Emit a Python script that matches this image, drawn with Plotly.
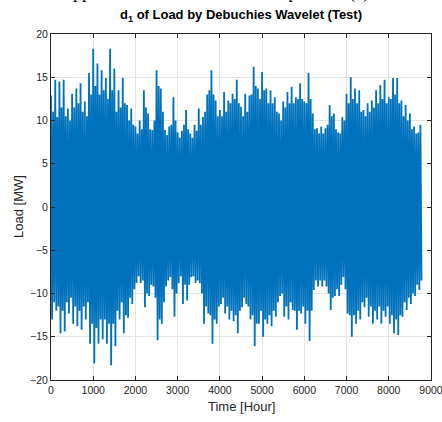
import plotly.graph_objects as go

# d1 detail signal of the load.
# For every 100-hour block: the spike top (upper), the spike bottom (lower),
# and the lower-lying envelope between spikes (upper_mid / lower_mid).
hours = list(range(0, 8800, 100))
upper = [12.9, 14.7, 14.5, 14.7, 11.4, 13.1, 13.7, 14.3, 12.2, 15.5,
         18.3, 16.6, 15.8, 14.9, 18.3, 16.0, 13.5, 14.9, 11.8, 11.4,
         9.3, 10.0, 13.5, 10.8, 8.9, 15.8, 13.7, 8.9, 9.3, 12.7,
         8.6, 8.8, 11.2, 8.5, 9.5, 11.4, 10.4, 13.0, 15.8, 12.3,
         11.2, 13.3, 12.3, 13.1, 14.7, 11.6, 13.1, 12.9, 16.2, 13.7,
         15.6, 13.7, 13.5, 12.7, 10.8, 12.2, 13.3, 13.9, 12.7, 14.3,
         12.2, 15.5, 10.8, 9.1, 9.3, 9.1, 11.8, 10.8, 8.6, 10.4,
         13.1, 15.0, 13.7, 13.5, 11.2, 12.0, 12.3, 13.5, 14.1, 14.7,
         12.7, 14.9, 14.9, 12.3, 11.8, 10.8, 9.3, 8.6]
lower = [-13.0, -12.0, -14.6, -14.4, -12.3, -13.5, -13.8, -14.2, -13.0, -15.8,
         -18.1, -15.8, -15.3, -15.8, -18.3, -16.1, -13.0, -14.6, -12.8, -11.2,
         -8.8, -8.8, -11.6, -10.3, -9.2, -15.4, -13.5, -9.2, -8.1, -12.7,
         -8.8, -11.2, -10.8, -8.1, -8.8, -8.8, -13.5, -12.3, -15.8, -13.5,
         -11.2, -12.3, -13.0, -13.2, -14.6, -11.6, -11.2, -13.0, -16.1, -13.5,
         -15.0, -13.5, -13.8, -12.7, -10.3, -12.7, -13.0, -11.9, -14.2, -12.3,
         -13.5, -15.5, -9.6, -9.2, -9.2, -9.2, -11.9, -10.3, -10.3, -8.1,
         -12.3, -15.0, -13.5, -13.0, -11.6, -12.7, -13.5, -13.0, -13.5, -12.7,
         -13.5, -14.6, -14.8, -12.7, -11.9, -11.2, -10.3, -9.6]
upper_mid = [11.0, 10.4, 11.5, 10.5, 10.0, 11.5, 12.0, 11.0, 10.5, 13.0,
             14.0, 13.0, 13.5, 12.5, 13.5, 11.0, 11.5, 12.0, 10.0, 9.5,
             8.5, 9.0, 11.5, 9.0, 10.0, 14.0, 11.0, 8.3, 9.5, 10.0,
             8.0, 9.5, 9.0, 8.0, 8.8, 9.5, 11.0, 13.5, 13.0, 10.5,
             10.5, 11.0, 12.0, 12.5, 12.0, 10.5, 11.0, 13.0, 14.0, 12.5,
             13.5, 12.0, 12.0, 11.0, 10.0, 11.5, 12.0, 12.0, 12.5, 12.5,
             12.0, 12.5, 9.0, 8.5, 8.5, 9.5, 10.5, 9.0, 8.5, 10.0,
             12.0, 12.5, 12.0, 11.0, 10.5, 11.0, 11.5, 12.0, 12.5, 12.0,
             12.5, 13.0, 12.0, 10.5, 10.0, 9.0, 8.5, 9.5]
lower_mid = [-11.0, -11.5, -12.0, -11.0, -10.5, -11.5, -12.0, -11.5, -11.0, -13.5,
             -14.0, -13.0, -13.0, -13.5, -13.5, -12.0, -11.0, -12.5, -10.5, -9.5,
             -8.0, -8.5, -10.0, -9.0, -10.5, -13.0, -11.0, -8.5, -9.5, -10.0,
             -8.0, -9.0, -9.0, -8.0, -8.5, -10.0, -11.5, -12.5, -13.0, -11.5,
             -10.5, -11.5, -12.0, -12.5, -12.0, -10.5, -11.5, -12.5, -13.5, -12.0,
             -13.0, -12.5, -12.0, -11.0, -10.0, -11.5, -11.0, -12.0, -12.0, -11.5,
             -12.0, -12.0, -8.5, -8.5, -8.5, -10.0, -10.5, -9.5, -9.0, -9.5,
             -12.5, -12.5, -12.0, -11.0, -10.5, -11.5, -12.0, -11.5, -12.0, -11.5,
             -12.5, -13.0, -12.5, -11.0, -10.5, -10.0, -9.0, -8.5]
sample_step = 25  # hours between consecutive samples inside a block

x_ticks = list(range(0, 10000, 1000))
y_ticks = list(range(-20, 25, 5))

xs, ys = [], []
for h, a, b, c, d in zip(hours, upper, lower, upper_mid, lower_mid):
    for k, v in enumerate((a, b, c, d)):
        xs.append(h + k * sample_step)
        ys.append(v)

fig = go.Figure()
fig.add_trace(go.Scatter(x=xs, y=ys, mode="lines",
                         line=dict(color="#0072BD", width=1.8),
                         hoverinfo="skip", showlegend=False))

FONT = "Liberation Sans, Arial, Helvetica"
axis_common = dict(showgrid=True, gridcolor="#e4e4e4", gridwidth=1,
                   zeroline=False, showline=True, linecolor="#262626",
                   linewidth=1, mirror="ticks", ticks="inside", ticklen=4,
                   tickcolor="#262626", automargin=False,
                   ticklabeloverflow="allow",
                   tickfont=dict(family=FONT, size=10.5, color="#262626"))

fig.update_xaxes(range=[0, 9000.5], tickvals=x_ticks, **axis_common)
fig.update_yaxes(range=[-20, 20], tickvals=y_ticks, **axis_common)

fig.update_layout(
    width=442, height=422,
    margin=dict(l=51, r=11, t=34, b=42),
    plot_bgcolor="white", paper_bgcolor="white",
    annotations=[
        dict(text="<b>d<sub>1</sub> of Load by Debuchies Wavelet (Test)</b>",
             xref="paper", yref="paper", x=0.5, y=1.0, yshift=8,
             xanchor="center", yanchor="bottom", showarrow=False,
             font=dict(family=FONT, size=13, color="black")),
        dict(text="Approximation and Detail Components (a)",
             xref="paper", yref="paper", x=0.43, y=1.0, yshift=29,
             xanchor="center", yanchor="bottom", showarrow=False,
             font=dict(family="Liberation Serif, Times New Roman", size=18,
                       color="black")),
        dict(text="Time [Hour]", xref="paper", yref="paper",
             x=0.5, y=0, yshift=-26, xanchor="center", yanchor="middle",
             showarrow=False, font=dict(family=FONT, size=13, color="#262626")),
        dict(text="Load [MW]", xref="paper", yref="paper",
             x=0, xshift=-33, y=0.5, xanchor="center", yanchor="middle",
             textangle=-90, showarrow=False,
             font=dict(family=FONT, size=13, color="#262626")),
    ],
)

fig.write_html(
    "out.html",
    config={"displayModeBar": False},
    post_script="document.body.style.margin='0';"
                "document.body.style.overflow='hidden';",
)
